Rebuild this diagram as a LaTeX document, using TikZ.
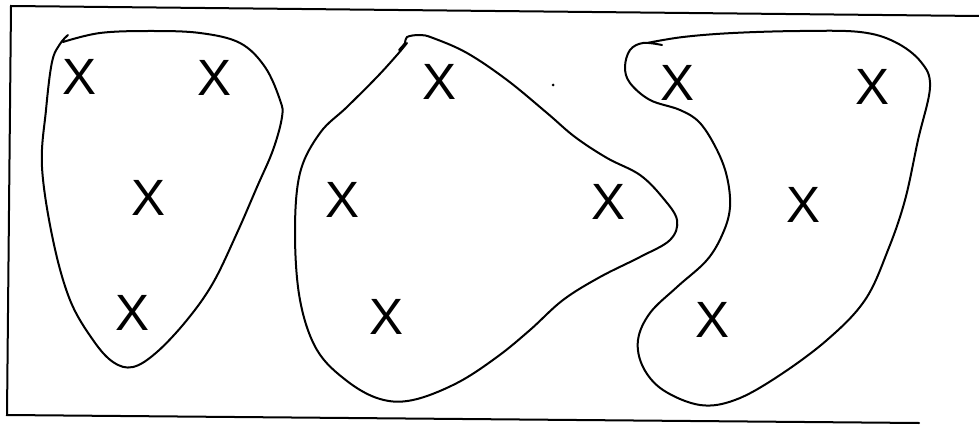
\documentclass[tikz,border=0pt]{standalone}
\usepackage{fontspec}
\setmainfont{Liberation Sans}
\begin{document}
\begin{tikzpicture}[x=1pt,y=-1pt,
  frameline/.style={line width=2pt,line cap=round},
  blobline/.style={line width=2pt,line cap=round,line join=round},
  xmark/.style={inner sep=0pt,font=\fontsize{51}{51}\selectfont}]
\useasboundingbox (0,0) rectangle (979,425);
% frame (open on the right)
\coordinate (f1) at (979,16);
\coordinate (f2) at (11,6);
\coordinate (f3) at (7,415);
\coordinate (f4) at (919,423);
\draw[frameline] (f1) -- (f2) -- (f3) -- (f4);
% blob 1
\draw[blobline] plot[smooth,tension=0.6] coordinates {
 (68,35) (60,44) (52,62) (46,110) (42,167) (53,240) (70,300) (93,340) (113,362) (133,367)
 (157,352) (187,320) (213,283) (237,233) (257,187) (273,150) (282,117) (280,100)
 (265,67) (240,43) (200,33) (150,31) (100,33) (63,42)};
% blob 2
\draw[blobline] plot[smooth,tension=0.6] coordinates {
 (399,50) (405,43) (407,37) (420,35) (433,38) (467,53) (507,80) (547,113) (575,137)
 (607,158) (640,175) (663,198) (677,220) (670,240) (640,257) (600,277) (563,300)
 (530,330) (497,357) (457,383) (413,400) (380,399) (347,381) (317,350) (300,300)
 (295,233) (300,173) (320,133) (347,107) (377,77) (397,55) (407,43)};
% blob 3
\draw[blobline] plot[smooth,tension=0.6] coordinates {
 (662,45) (643,43) (630,50) (625,67) (630,83) (650,100) (680,110) (700,123)
 (717,150) (727,177) (730,207) (723,233) (707,260) (677,287) (650,313) (638,340)
 (643,367) (663,390) (700,405) (735,400) (777,377) (827,340) (865,300) (888,250)
 (905,200) (918,140) (930,87) (921,62) (895,42) (860,32) (800,31) (733,33) (683,37) (647,43)};
% marks
\node[xmark] (a1) at (80,77) {X};
\node[xmark] (a2) at (215,78) {X};
\node[xmark] (a3) at (149,198) {X};
\node[xmark] (a4) at (133,313) {X};
\node[xmark] (b1) at (440,82) {X};
\node[xmark] (b2) at (343,200) {X};
\node[xmark] (b3) at (608,202) {X};
\node[xmark] (b4) at (387,317) {X};
\node[xmark] (c1) at (677,83) {X};
\node[xmark] (c2) at (872,87) {X};
\node[xmark] (c3) at (803,205) {X};
\node[xmark] (c4) at (712,320) {X};
% speck
\fill (553,85) circle (1.5);
\end{tikzpicture}
\end{document}
